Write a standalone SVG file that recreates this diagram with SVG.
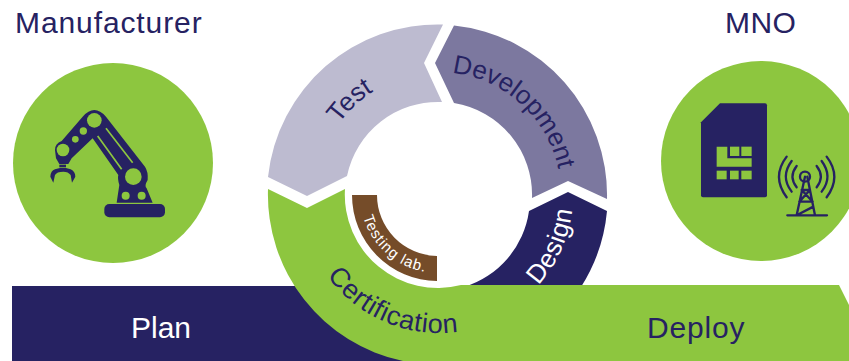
<svg xmlns="http://www.w3.org/2000/svg" width="849" height="361" viewBox="0 0 849 361">
<style>
.t{font-family:"Liberation Sans",Arial,sans-serif;fill:#262262;font-size:30px}
.c{font-size:26px}
.w{fill:#fff}
.g{fill:#8DC63F}
.n{fill:#262262}
.s{fill:none;stroke:#262262;stroke-linecap:round}
</style>
<defs>
<path id="pCert" d="M301 195A138 138 0 0 0 577 195"/>
<path id="pDesign" d="M438 330A135 135 0 0 0 573 195"/>
<path id="pLab" d="M360 195A78 78 0 0 0 516 195"/>
<path id="pTest" d="M316 195A122 122 0 0 1 560 195"/>
<path id="pDev" d="M438 72A123 123 0 0 1 561 195"/>
</defs>
<rect width="849" height="361" fill="#fff"/>
<g id="plan"><rect class="n" x="12" y="286" width="400" height="75"/><text class="t w" x="131" y="338">Plan</text></g>
<g id="design"><path class="n" d="M568 192L607 211A170.500 170.500 0 0 1 581 287L464 287A93 93 0 0 0 529 211Z"/><text class="t c w" letter-spacing=".6"><textPath href="#pDesign" startOffset="113">Design</textPath></text></g>
<g id="test"><path fill="#BDBBD0" d="M268 177A170.500 170.500 0 0 1 443 24.500L424 63L442 102A93 93 0 0 0 347 176L307 196Z"/><text class="t c"><textPath href="#pTest" startOffset="76">Test</textPath></text></g>
<g id="development"><path fill="#7C789F" d="M454 25.500A170.500 170.500 0 0 1 607 199L568 181L532 198A93 93 0 0 0 454 103L435 63Z"/><text class="t c"><textPath href="#pDev" startOffset="14">Development</textPath></text></g>
<g id="certification"><path class="g" d="M268 189L307 208L345 189A93 93 0 0 0 461 285L839 285L849 305L849 361L403 361A170 170 0 0 1 268 189Z"/><text class="t" style="font-size:27px;letter-spacing:.6px"><textPath href="#pCert" startOffset="86">Certification</textPath></text><text class="t" x="647" y="338" letter-spacing=".8">Deploy</text></g>
<g id="testing-lab"><path fill="#754C29" d="M352 195L377 195A61 61 0 0 0 437 256L437 281A86 86 0 0 1 352 195Z"/><text class="w" font-family="Liberation Sans,Arial,sans-serif" font-size="15" letter-spacing="1"><textPath href="#pLab" startOffset="22">Testing lab.</textPath></text></g>
<g id="manufacturer">
<text class="t" x="15" y="32.500" letter-spacing=".9">Manufacturer</text>
<circle class="g" cx="113" cy="163" r="100"/>
<g transform="translate(0 60) scale(.3333)">
<rect class="n" x="313" y="432" width="182" height="40" rx="15"/>
<path class="n" d="M165 270Q165 250 185 243L248 170Q283 130 318 170L435 320Q445 335 443 360Q432 378 440 385L458 428L350 428L358 375Q352 355 355 345L278 235L215 295L205 312L178 312L168 295Z"/>
<g class="g"><circle cx="283" cy="181" r="22"/><circle cx="250" cy="213" r="11"/><circle cx="226" cy="238" r="10"/><circle cx="189" cy="270" r="19"/><circle cx="400" cy="350" r="25"/><circle cx="377" cy="407" r="12"/><circle cx="425" cy="407" r="12"/></g>
<path d="M318 205L398 308M293 228L365 328" stroke="#8DC63F" stroke-width="5" fill="none"/>
<rect class="n" x="178" y="314" width="20" height="8"/>
<path class="n" d="M160 368L151 350Q152 332 165 328L180 324L198 324L212 328Q226 335 226 350L216 368L212 345Q205 335 190 335Q170 335 165 345Z"/>
</g>
</g>
<g id="mno">
<text class="t" x="725" y="33" letter-spacing=".4">MNO</text>
<circle class="g" cx="761" cy="161" r="100"/>
<g transform="translate(650 60) scale(.3333)">
<path class="n" d="M210 130L345 130Q351 130 351 136L351 406Q351 412 345 412L159 412Q153 412 153 406L153 187Z"/>
<g class="g"><path d="M200 260L232 260L232 295L305 295L305 320L200 320Z"/><rect x="240" y="260" width="28" height="28"/><rect x="274" y="260" width="31" height="28"/><rect x="200" y="332" width="30" height="26"/><rect x="240" y="332" width="26" height="26"/><rect x="274" y="332" width="31" height="26"/></g>
<g class="s" stroke-width="7">
<path d="M410 290Q364 350 410 412M425 303Q390 350 425 395M440 318Q415 350 440 382M530 290Q576 350 530 412M515 303Q550 350 515 395M500 318Q525 350 500 382"/>
<circle cx="465" cy="350" r="15"/>
<path d="M412 466L531 466M465 350L440 466M472 350L495 466M455 390L480 390M448 425L488 425M455 390L488 425M448 425L480 390M440 466L490 440"/>
</g>
</g>
</g>
</svg>
